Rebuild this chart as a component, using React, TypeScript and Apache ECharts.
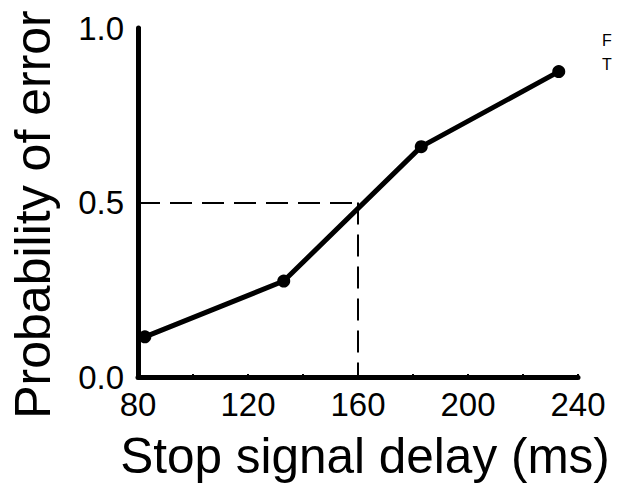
import React, { useEffect, useRef } from "react";
import * as echarts from "echarts";

const delays = [82.5, 133, 183, 233];
const errorProb = [0.115, 0.275, 0.66, 0.875];
const thresholdDelay = [160];
const thresholdProb = [0.5];
const legendLabels = ["F", "T"];

export default function App() {
  const ref = useRef<HTMLDivElement>(null);
  useEffect(() => {
    if (!ref.current) return;
    const chart = echarts.init(ref.current, null, { renderer: "svg" });
    const font = "Liberation Sans, Arial, sans-serif";
    const td = thresholdDelay[0];
    const tp = thresholdProb[0];
    chart.setOption({
      animation: false,
      backgroundColor: "#ffffff",
      grid: { left: 133, right: 39, top: 28, bottom: 104, containLabel: false },
      xAxis: {
        type: "value",
        min: 80,
        max: 240,
        interval: 40,
        name: "Stop signal delay (ms)",
        nameLocation: "middle",
        nameGap: 53,
        nameTextStyle: { fontSize: 49.5, color: "#000", fontFamily: font, padding: [0, 0, 0, 14] },
        axisLine: { show: true, onZero: false, lineStyle: { color: "#000", width: 5 } },
        axisTick: { show: true, inside: true, length: 3, lineStyle: { color: "#000", width: 2 } },
        minorTick: { show: true, splitNumber: 2, length: 3, lineStyle: { color: "#000", width: 2 } },
        splitLine: { show: false },
        axisLabel: { fontSize: 33, color: "#000", fontFamily: font, margin: 11 },
      },
      yAxis: {
        type: "value",
        min: 0,
        max: 1,
        interval: 0.5,
        name: "Probability of error",
        nameLocation: "middle",
        nameGap: 80,
        nameTextStyle: { fontSize: 50, color: "#000", fontFamily: font, padding: [0, 24, 0, 0] },
        axisLine: { show: true, onZero: false, lineStyle: { color: "#000", width: 5 } },
        axisTick: { show: true, inside: true, length: 3, lineStyle: { color: "#000", width: 2 } },
        minorTick: { show: true, splitNumber: 5, length: 3, lineStyle: { color: "#000", width: 2 } },
        splitLine: { show: false },
        axisLabel: {
          fontSize: 33,
          color: "#000",
          fontFamily: font,
          margin: 14,
          formatter: (v: number) => v.toFixed(1),
        },
      },
      series: [
        {
          type: "line",
          data: delays.map((d, i) => [d, errorProb[i]]),
          symbol: "circle",
          symbolSize: 13,
          lineStyle: { color: "#000", width: 5 },
          itemStyle: { color: "#000" },
          z: 5,
          markLine: {
            silent: true,
            symbol: "none",
            label: { show: false },
            lineStyle: { color: "#000", width: 2, type: [22, 10] },
            data: [
              [{ coord: [80, tp] }, { coord: [td, tp] }],
              [{ coord: [td, tp] }, { coord: [td, 0] }],
            ],
          },
        },
      ],
      graphic: legendLabels.map((t, i) => ({
        type: "text",
        left: 602,
        top: 32 + i * 24,
        style: { text: t, fontSize: 16, fill: "#000", fontFamily: font },
      })),
    });
    return () => chart.dispose();
  }, []);
  return <div ref={ref} style={{ width: 617, height: 485, position: "absolute", left: 0, top: 0 }} />;
}
